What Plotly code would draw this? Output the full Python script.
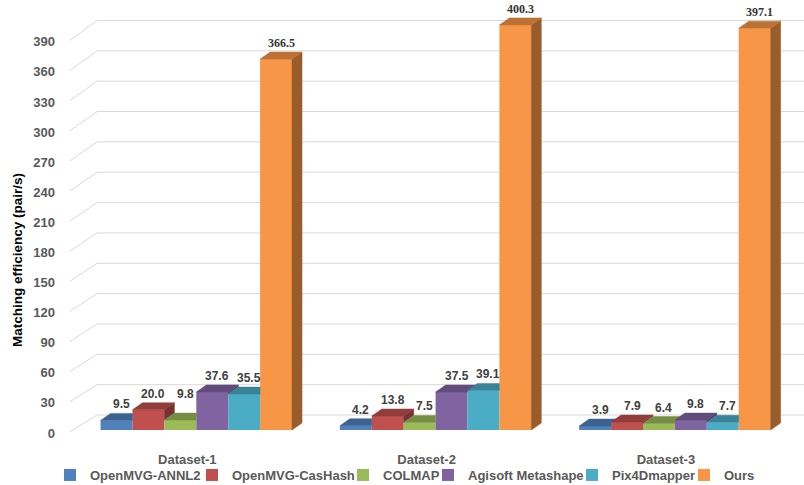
import plotly.graph_objects as go

# ---- data -------------------------------------------------------------
categories = ["Dataset-1", "Dataset-2", "Dataset-3"]
series_names = ["OpenMVG-ANNL2", "OpenMVG-CasHash", "COLMAP",
                "Agisoft Metashape", "Pix4Dmapper", "Ours"]
annl2 = [9.5, 4.2, 3.9]
cashash = [20.0, 13.8, 7.9]
colmap = [9.8, 7.5, 6.4]
metashape = [37.6, 37.5, 9.8]
pix4d = [35.5, 39.1, 7.7]
ours = [366.5, 400.3, 397.1]
y_ticks = list(range(0, 391, 30))

series = [annl2, cashash, colmap, metashape, pix4d, ours]
front_colors = ["#4F81BD", "#C0504D", "#9BBB59", "#8064A2", "#4BACC6", "#F79646"]


def shade(hex_color, f):
    h = hex_color.lstrip("#")
    r, g, b = (int(h[i:i + 2], 16) for i in (0, 2, 4))
    return "rgb(%d,%d,%d)" % (round(r * f), round(g * f), round(b * f))


top_colors = [shade(c, 0.76) for c in front_colors]
side_colors = [shade(c, 0.62) for c in front_colors]

# ---- geometry ---------------------------------------------------------
W, H = 804, 485
L, R, T, B = 70, 0, 0, 52
plot_w, plot_h = W - L - R, H - T - B

px_per_cat = 239.3          # horizontal pixels per category
first_center_px = 196.3     # centre of the first group (front face)
x_lo = -(first_center_px - L) / px_per_cat
x_hi = x_lo + plot_w / px_per_cat

px_per_val = 1.012          # bar value scale (front faces of bars)
base_px = 430               # baseline of bar fronts, px from top
y_lo = -(T + plot_h - base_px) / px_per_val
y_hi = y_lo + plot_h / px_per_val

lab_px_per_val = 1.003      # value scale on the front edge of the floor
lab_hi = plot_h / lab_px_per_val

group_width = 0.8
bw = group_width / len(series)
DX = 10 / px_per_cat        # depth offset of the bar boxes
DY = 7 / px_per_val


def px_to_x(px):
    return x_lo + (px - L) / px_per_cat


def side_poly(x1, v, u):
    lo = max(u, 0.0)
    if lo >= v:
        return None
    return [(x1, lo), (x1 + DX, lo + DY), (x1 + DX, v + DY), (x1, v)]


def top_poly(x0, x1, v, u):
    p0, p1 = (x0, v), (x1, v)
    p2, p3 = (x1 + DX, v + DY), (x0 + DX, v + DY)
    if u <= v:
        return [p0, p1, p2, p3]
    if u >= v + DY:
        return [p0, p1, (x1, v + DY), p3]
    xi = x1 + (u - v) / DY * DX
    return [p0, p1, (x1, u), (xi, u), p2, p3]


def poly_xy(polys, close=True):
    xs, ys = [], []
    for p in polys:
        if not p:
            continue
        pts = p + [p[0]] if close else p
        for x, y in pts:
            xs.append(x)
            ys.append(y)
        xs.append(None)
        ys.append(None)
    return xs, ys


SANS = "Liberation Sans, Arial, sans-serif"
SERIF = "Liberation Serif, Times New Roman, serif"
GREY = "#595959"
LABEL = "#404040"

fig = go.Figure()

# back-wall gridlines with their diagonal runs on the side wall (base subplot)
front_x, back_x, right_x = px_to_x(68), px_to_x(97), px_to_x(W)
grid_runs = []
for v in y_ticks:
    back_v = (18 + 1.0115 * v) / lab_px_per_val
    grid_runs.append([(front_x, v), (back_x, back_v), (right_x, back_v)])
gx, gy = poly_xy(grid_runs, close=False)
fig.add_trace(go.Scatter(
    x=gx, y=gy, xaxis="x", yaxis="y", mode="lines",
    line=dict(color="#D9D9D9", width=1), hoverinfo="skip", showlegend=False,
))

legend_ids = ["legend"] + ["legend%d" % k for k in range(2, len(series) + 1)]

# front faces (overlay subplot, drawn above the gridlines)
for s, (name, vals) in enumerate(zip(series_names, series)):
    fig.add_trace(go.Bar(
        x=list(range(len(categories))), y=vals, name=name,
        xaxis="x", yaxis="y2",
        marker=dict(color=front_colors[s], line=dict(width=0)),
        legendgroup=name, legend=legend_ids[s],
        customdata=categories,
        hovertemplate="%{customdata}<br>" + name + ": %{y:.1f}<extra></extra>",
    ))

# side and top faces, drawn bar by bar from left to right
for s, (name, vals) in enumerate(zip(series_names, series)):
    sides, tops = [], []
    for c, v in enumerate(vals):
        x0 = c - group_width / 2 + s * bw
        x1 = x0 + bw
        u = series[s + 1][c] if s + 1 < len(series) else 0.0
        sides.append(side_poly(x1, v, u))
        tops.append(top_poly(x0, x1, v, u))
    for polys, col in ((sides, side_colors[s]), (tops, top_colors[s])):
        xs, ys = poly_xy(polys)
        if not xs:
            continue
        fig.add_trace(go.Scatter(
            x=xs, y=ys, xaxis="x", yaxis="y2", mode="lines",
            fill="toself", fillcolor=col,
            line=dict(color=col, width=0.5), hoverinfo="skip",
            showlegend=False, legendgroup=name,
        ))

# value labels
extra_shift = {(2, 0): 10}
annotations = []
for s, vals in enumerate(series):
    for c, v in enumerate(vals):
        xc = c - group_width / 2 + (s + 0.5) * bw + DX / 2
        is_ours = s == len(series) - 1
        annotations.append(dict(
            x=xc, y=v + DY, xref="x", yref="y2", text="%.1f" % v,
            showarrow=False, yanchor="bottom", xanchor="center",
            yshift=extra_shift.get((s, c), 0),
            font=dict(family=SERIF if is_ours else SANS, size=12,
                      color="#333333" if is_ours else LABEL, weight="bold"),
        ))

# axis title
annotations.append(dict(
    x=(17 - L) / plot_w, y=(T + plot_h - 260) / plot_h, xref="paper", yref="paper",
    xanchor="center", yanchor="middle",
    text="Matching efficiency (pair/s)", textangle=-90, showarrow=False,
    font=dict(family=SANS, size=13.5, color="#000000", weight="bold"),
))

layout = dict(
    width=W, height=H, margin=dict(l=L, r=R, t=T, b=B, autoexpand=False),
    paper_bgcolor="white", plot_bgcolor="white",
    barmode="group", bargap=1 - group_width, bargroupgap=0,
    xaxis=dict(range=[x_lo, x_hi], tickvals=list(range(len(categories))),
               ticktext=categories, showgrid=False, zeroline=False,
               showline=False, ticks="", ticklabelshift=-9, ticklabelstandoff=17,
               tickfont=dict(family=SANS, size=13, color=GREY, weight="bold"),
               fixedrange=True),
    yaxis=dict(range=[0, lab_hi], tickvals=y_ticks, showgrid=False,
               zeroline=False, showline=False, ticks="", ticklabelstandoff=14,
               tickfont=dict(family=SANS, size=13, color=GREY, weight="bold"),
               fixedrange=True),
    yaxis2=dict(range=[y_lo, y_hi], overlaying="y", side="left",
                showgrid=False, zeroline=False, showline=False,
                showticklabels=False, ticks="", fixedrange=True),
    annotations=annotations,
    hovermode="closest",
)

legend_text_px = [90, 232, 383, 468, 612, 724]
for lid, tx in zip(legend_ids, legend_text_px):
    layout[lid] = dict(
        x=(tx - 40 - L) / plot_w, xanchor="left",
        y=(T + plot_h - 475) / plot_h, yanchor="middle",
        orientation="h", bgcolor="rgba(0,0,0,0)",
        font=dict(family=SANS, size=13, color=GREY, weight="bold"),
    )

fig.update_layout(**layout)
fig.write_html("out.html")
